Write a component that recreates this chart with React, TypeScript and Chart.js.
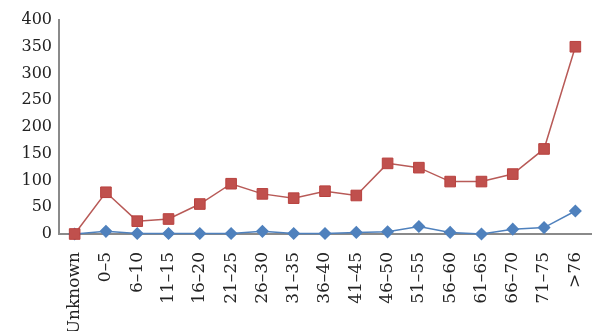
import React, { useEffect, useRef } from "react";
import { Chart, registerables } from "chart.js";

Chart.register(...registerables);

const categories = [
  "Unknown", "0–5", "6–10", "11–15", "16–20", "21–25", "26–30", "31–35",
  "36–40", "41–45", "46–50", "51–55", "56–60", "61–65", "66–70", "71–75", ">76",
];
const redSeries = [0, 78, 24, 28, 56, 94, 75, 67, 80, 72, 132, 124, 98, 98, 112, 159, 350];
const blueSeries = [0, 5, 1, 1, 1, 1, 5, 1, 1, 3, 4, 14, 3, 0, 9, 12, 43];
const yTicks = [0, 50, 100, 150, 200, 250, 300, 350, 400];

const zeroPad = (s: any) => {
  s.paddingLeft = 0;
  s.paddingRight = 0;
  s.paddingTop = 0;
  s.paddingBottom = 0;
};

export default function App() {
  const ref = useRef<HTMLCanvasElement | null>(null);
  useEffect(() => {
    if (!ref.current) return;
    const chart = new Chart(ref.current, {
      type: "line",
      data: {
        labels: categories,
        datasets: [
          {
            data: redSeries,
            borderColor: "#b85a57",
            backgroundColor: "#c0504d",
            pointBackgroundColor: "#c0504d",
            pointBorderColor: "#b8413e",
            pointBorderWidth: 1,
            pointStyle: "rect",
            pointRadius: 7.5,
            borderWidth: 1.5,
            tension: 0,
            clip: false as any,
          },
          {
            data: blueSeries,
            borderColor: "#4f81bd",
            backgroundColor: "#4f81bd",
            pointBackgroundColor: "#4f81bd",
            pointBorderColor: "#4f81bd",
            pointStyle: "rectRot",
            pointRadius: 5.5,
            borderWidth: 1.5,
            tension: 0,
            clip: false as any,
          },
        ],
      },
      options: {
        responsive: false,
        animation: false,
        layout: { autoPadding: false, padding: { top: 20, right: 4, left: 0, bottom: 0 } },
        plugins: { legend: { display: false }, tooltip: { enabled: false } },
        scales: {
          x: {
            offset: true,
            grid: { display: false, drawTicks: false },
            border: { display: true, color: "#8a8a8a", width: 2 },
            ticks: {
              autoSkip: false,
              maxRotation: 90,
              minRotation: 90,
              padding: 18,
              color: "#222",
              font: { family: "DejaVu Serif", size: 17 },
            },
            afterFit: (s: any) => {
              s.height = 97;
              zeroPad(s);
            },
          },
          y: {
            min: 0,
            max: 400,
            afterBuildTicks: (s: any) => {
              s.ticks = yTicks.map((v) => ({ value: v }));
            },
            grid: { display: false, drawTicks: false },
            border: { display: true, color: "#8a8a8a", width: 2 },
            ticks: {
              padding: 7,
              color: "#222",
              font: { family: "DejaVu Serif", size: 16 },
            },
            afterFit: (s: any) => {
              s.width = 59;
              zeroPad(s);
            },
          },
        },
      },
    });
    return () => chart.destroy();
  }, []);
  return (
    <div style={{ position: "absolute", left: 0, top: 0, width: 595, height: 331, background: "#fff" }}>
      <canvas ref={ref} width={595} height={331} />
    </div>
  );
}
